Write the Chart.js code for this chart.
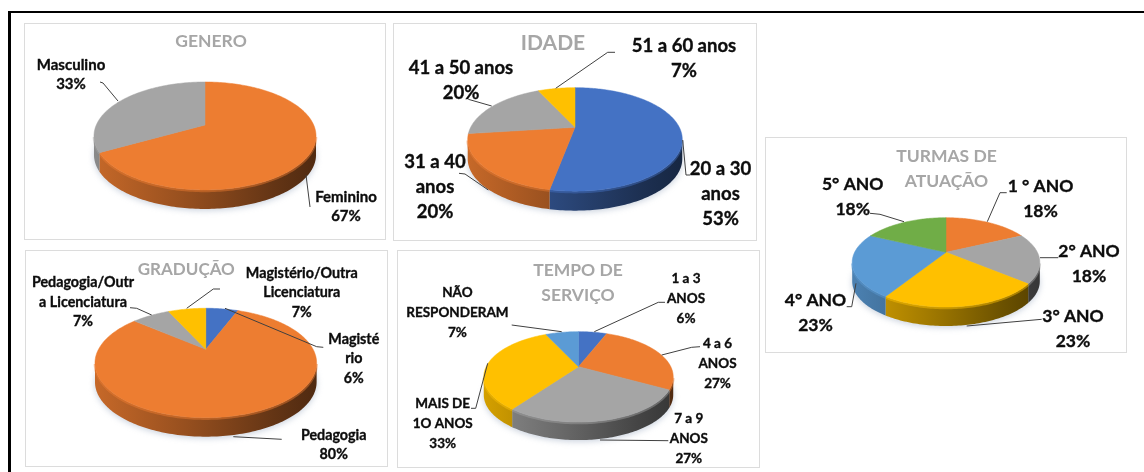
<!DOCTYPE html>
<html>
<head>
<meta charset="utf-8">
<title>Perfil dos professores</title>
<script src="https://cdn.jsdelivr.net/npm/chart.js@4/dist/chart.umd.min.js"></script>
<style>
  html, body { margin: 0; padding: 0; background: #fff; }
  #page { position: relative; width: 1144px; height: 472px; overflow: hidden; }
  #frame { position: absolute; left: 8px; top: 11px; width: 1200px; height: 500px; border: 2px solid #000; border-left-width: 3px; box-sizing: border-box; }
  .panel { position: absolute; background: #fff; border: 1px solid #dcdcdc; box-sizing: border-box; }
  canvas { position: absolute; left: 0; top: 0; }
</style>
</head>
<body>
<div id="page"><div id="frame"></div></div>
<script>
// Data (percent labels)
const generoLabels = ["Feminino", "Masculino"];
const generoValues = [67, 33];

const idadeLabels = ["20 a 30\nanos", "31 a 40\nanos", "41 a 50 anos", "51 a 60 anos"];
const idadeValues = [53, 20, 20, 7];

const graducaoLabels = ["Magisté\nrio", "Pedagogia", "Pedagogia/Outr\na Licenciatura", "Magistério/Outra\nLicenciatura"];
const graducaoValues = [6, 80, 7, 7];

const tempoLabels = ["1 a 3\nANOS", "4 a 6\nANOS", "7 a 9\nANOS", "MAIS DE\n1O ANOS", "NÃO\nRESPONDERAM"];
const tempoValues = [6, 27, 27, 33, 7];

const turmasLabels = ["1 ° ANO", "2° ANO", "3° ANO", "4° ANO", "5° ANO"];
const turmasValues = [18, 18, 23, 23, 18];

// Office palette
const BLUE = "#4472c4", ORANGE = "#ed7d31", GRAY = "#a5a5a5", YELLOW = "#ffc000", SKY = "#5b9bd5", GREEN = "#70ad47";

function shade(hex, f) {
  const n = parseInt(hex.slice(1), 16);
  const c = [(n >> 16) & 255, (n >> 8) & 255, n & 255].map((v) => Math.round(v * f));
  return `rgb(${c[0]},${c[1]},${c[2]})`;
}

// angle on the pie -> point on the tilted disc, seen in perspective
function rimPoint(x, y, r, geo, a) {
  const s = 1 / (1 - geo.persp * Math.sin(a));
  return [x + r * Math.cos(a) * s, y + r * geo.tilt * Math.sin(a) * s];
}

function tracePoints(ctx, a0, a1, fn) {
  const steps = Math.max(2, Math.ceil(Math.abs(a1 - a0) / 0.02));
  for (let i = 0; i <= steps; i++) {
    const p = fn(a0 + ((a1 - a0) * i) / steps);
    ctx.lineTo(p[0], p[1]);
  }
}

// Arc element that draws itself as a slice of a 3D disc
class Arc3d extends Chart.ArcElement {
  static id = "arc3d";
  static defaults = { ...Chart.ArcElement.defaults };

  draw(ctx) {
    const geo = Chart.getChart(ctx.canvas).options.pie3d;
    const { x, y, startAngle, endAngle, outerRadius: r } = this.getProps(["x", "y", "startAngle", "endAngle", "outerRadius"]);
    const color = this.options.backgroundColor;
    const rim = (a) => rimPoint(x, y, r, geo, a);

    // side wall, only the part that faces the viewer
    const edge = Math.asin(geo.persp);
    const lo = Math.max(startAngle, edge);
    const hi = Math.min(endAngle, Math.PI - edge);
    ctx.save();
    if (hi > lo) {
      const wall = ctx.createLinearGradient(x - r * 1.05, 0, x + r * 1.05, 0);
      wall.addColorStop(0, shade(color, 0.84));
      wall.addColorStop(0.4, shade(color, 0.64));
      wall.addColorStop(0.8, shade(color, 0.42));
      wall.addColorStop(1, shade(color, 0.33));
      ctx.fillStyle = wall;
      ctx.beginPath();
      tracePoints(ctx, lo, hi, rim);
      tracePoints(ctx, hi, lo, (a) => {
        const p = rim(a);
        return [p[0], p[1] + geo.depth];
      });
      ctx.closePath();
      ctx.fill();
      // soft light along the top edge of the wall
      ctx.strokeStyle = color;
      ctx.globalAlpha = 0.45;
      ctx.lineWidth = 2.5;
      ctx.beginPath();
      tracePoints(ctx, lo, hi, (a) => {
        const p = rim(a);
        return [p[0], p[1] + 1];
      });
      ctx.stroke();
      ctx.globalAlpha = 1;
    }

    // top face
    ctx.fillStyle = color;
    ctx.strokeStyle = color;
    ctx.lineWidth = 0.5;
    ctx.beginPath();
    ctx.moveTo(x, y);
    tracePoints(ctx, startAngle, endAngle, rim);
    ctx.closePath();
    ctx.fill();
    ctx.stroke();
    ctx.restore();
  }
}

class Pie3dController extends Chart.PieController {
  static id = "pie3d";
  static defaults = { dataElementType: "arc3d" };
}

Chart.register(Arc3d, Pie3dController);

// soft shadow under the disc
const discShadow = {
  id: "discShadow",
  beforeDatasetsDraw(chart) {
    const geo = chart.options.pie3d;
    const arc = chart.getDatasetMeta(0).data[0];
    const ctx = chart.ctx;
    ctx.save();
    ctx.filter = "blur(3px)";
    ctx.fillStyle = "rgba(120,140,170,0.4)";
    ctx.beginPath();
    tracePoints(ctx, 0, Math.PI * 2, (a) => {
      const p = rimPoint(arc.x, arc.y, arc.outerRadius, geo, a);
      return [p[0], p[1] + geo.depth + 1.5];
    });
    ctx.fill();
    ctx.restore();
  },
};

// chart title and data labels with their leader lines
function textPlugin(cfg) {
  return {
    id: "pieText",
    afterDatasetsDraw(chart) {
      const ctx = chart.ctx;
      const values = chart.data.datasets[0].data;
      ctx.save();
      ctx.textAlign = "center";
      ctx.textBaseline = "middle";

      ctx.fillStyle = "#a6a6a6";
      ctx.font = `bold ${cfg.titleSize}px Lato`;
      cfg.title.forEach((line, i) => {
        ctx.fillText(line, cfg.titleX, cfg.titleY + i * cfg.titleLine);
      });

      ctx.fillStyle = "#0d0d0d";
      ctx.font = `bold ${cfg.labelSize}px Lato`;
      chart.data.labels.forEach((label, i) => {
        const spot = cfg.callouts[i];
        const lines = label.split("\n").concat(values[i] + "%");
        ctx.strokeStyle = "#0d0d0d";
        ctx.lineWidth = 0.35;
        lines.forEach((line, j) => {
          ctx.fillText(line, spot.x, spot.y + j * cfg.labelLine);
          ctx.strokeText(line, spot.x, spot.y + j * cfg.labelLine);
        });
        ctx.strokeStyle = "#404040";
        ctx.lineWidth = 1;
        ctx.beginPath();
        spot.leader.forEach((p) => ctx.lineTo(p[0], p[1]));
        ctx.stroke();
      });
      ctx.restore();
    },
  };
}

function makePie(cfg) {
  const page = document.getElementById("page");
  const panel = document.createElement("div");
  panel.className = "panel";
  panel.style.left = cfg.panel[0] + "px";
  panel.style.top = cfg.panel[1] + "px";
  panel.style.width = cfg.panel[2] + "px";
  panel.style.height = cfg.panel[3] + "px";
  page.appendChild(panel);
  cfg.canvas = document.createElement("canvas");
  cfg.canvas.width = 1144;
  cfg.canvas.height = 472;
  cfg.canvas.style.zIndex = 2;
  page.appendChild(cfg.canvas);
  return cfg;
}

function drawPie(cfg) {
  const [cx, cy, r] = cfg.disc;
  return new Chart(cfg.canvas, {
    type: "pie3d",
    data: {
      labels: cfg.labels,
      datasets: [{ data: cfg.values, backgroundColor: cfg.colors, borderWidth: 0 }],
    },
    options: {
      responsive: false,
      animation: false,
      devicePixelRatio: 1,
      events: [],
      layout: { padding: { left: cx - r, right: 1144 - cx - r, top: cy - r, bottom: 472 - cy - r } },
      plugins: { legend: { display: false }, tooltip: { enabled: false } },
      pie3d: { tilt: cfg.tilt, persp: cfg.persp, depth: cfg.depth },
    },
    plugins: [discShadow, textPlugin(cfg)],
  });
}

const genero = {
  labels: generoLabels, values: generoValues, colors: [ORANGE, GRAY],
  panel: [24, 23, 362, 217], disc: [205, 125, 108.7], tilt: 0.476, persp: 0.203, depth: 19,
  title: ["GENERO"], titleX: 211, titleY: 41, titleSize: 17.5, titleLine: 25,
  labelSize: 15, labelLine: 19.3,
  callouts: [
    { x: 346, y: 197, leader: [[310, 207], [306, 175]] },
    { x: 71, y: 65, leader: [[100, 82], [103, 83], [118, 101]] },
  ],
};

const idade = {
  labels: idadeLabels, values: idadeValues, colors: [BLUE, ORANGE, GRAY, YELLOW],
  panel: [393, 23, 364, 218], disc: [575, 127.3, 104.3], tilt: 0.469, persp: 0.234, depth: 19.5,
  title: ["IDADE"], titleX: 553, titleY: 43, titleSize: 21, titleLine: 25,
  labelSize: 18.5, labelLine: 24.8,
  callouts: [
    { x: 720.5, y: 169, leader: [[690, 175], [686, 175], [682.7, 140]] },
    { x: 435, y: 162, leader: [[459, 173.3], [465, 174], [488.3, 190]] },
    { x: 461, y: 68.3, leader: [[468.3, 99.3], [491.7, 106]] },
    { x: 684, y: 46, leader: [[615, 52.3], [607.7, 52.3], [555.7, 88.3]] },
  ],
};

const graducao = {
  labels: graducaoLabels, values: graducaoValues, colors: [BLUE, ORANGE, GRAY, YELLOW],
  panel: [25, 250, 363, 217], disc: [205.8, 349.3, 107.3], tilt: 0.478, persp: 0.25, depth: 19,
  title: ["GRADUÇÃO"], titleX: 186.3, titleY: 270, titleSize: 17, titleLine: 25,
  labelSize: 14.3, labelLine: 19.5,
  callouts: [
    { x: 353.8, y: 339, leader: [[323.3, 347.3], [316.7, 346.7], [225, 308.3]] },
    { x: 333.7, y: 435, leader: [[281.7, 439.3], [233.3, 436.7]] },
    { x: 83, y: 282.7, leader: [[130, 307.7], [136.7, 308.3], [151.7, 315]] },
    { x: 301.8, y: 273.3, leader: [[220, 289], [213.3, 289], [186.7, 308.3]] },
  ],
};

const tempo = {
  labels: tempoLabels, values: tempoValues, colors: [BLUE, ORANGE, GRAY, YELLOW, SKY],
  panel: [397, 250, 363, 218], disc: [578.5, 366.7, 92.3], tilt: 0.465, persp: 0.225, depth: 18,
  title: ["TEMPO DE", "SERVIÇO"], titleX: 578, titleY: 270, titleSize: 17.5, titleLine: 25,
  labelSize: 13.5, labelLine: 20,
  callouts: [
    { x: 686, y: 278.3, leader: [[665, 302.3], [658.3, 302.3], [594.3, 331.7]] },
    { x: 717.5, y: 343.3, leader: [[700, 346.7], [691.7, 347.3], [661.7, 355]] },
    { x: 688.8, y: 418.3, leader: [[668.3, 440.7], [600, 440]] },
    { x: 442.7, y: 403.3, leader: [[471, 408.3], [475.7, 408.3], [487.7, 363.3]] },
    { x: 457.4, y: 292.3, leader: [[511.7, 325], [561.7, 331.7]] },
  ],
};

const turmas = {
  labels: turmasLabels, values: turmasValues, colors: [ORANGE, GRAY, YELLOW, SKY, GREEN],
  panel: [765, 137, 362, 216], disc: [946, 252.3, 91.4], tilt: 0.464, persp: 0.225, depth: 19,
  title: ["TURMAS DE", "ATUAÇÃO"], titleX: 946.5, titleY: 156.7, titleSize: 17.5, titleLine: 25,
  labelSize: 17.5, labelLine: 25,
  callouts: [
    { x: 1040.5, y: 186.7, leader: [[1006.7, 192.7], [1000, 192.7], [987.3, 221.7]] },
    { x: 1089, y: 251.7, leader: [[1058.3, 257.7], [1040, 257.7]] },
    { x: 1073, y: 316.7, leader: [[1041.7, 319.3], [966.7, 326]] },
    { x: 815.5, y: 300, leader: [[846.7, 306.7], [851.7, 306.7], [856, 283.3]] },
    { x: 852.7, y: 184.3, leader: [[870, 213.3], [880, 214.3], [904, 221.7]] },
  ],
};

[genero, idade, graducao, tempo, turmas].map(makePie).forEach(drawPie);
</script>
</body>
</html>
